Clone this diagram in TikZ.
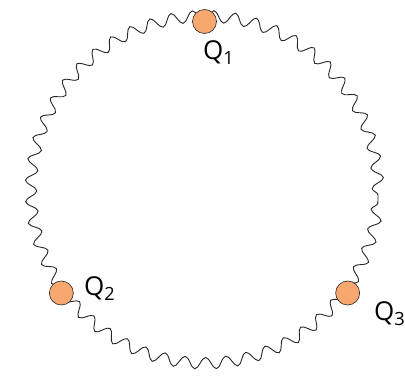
\documentclass[tikz,border=0pt]{standalone}
\usepackage{fontspec}
\setmainfont{Open Sans}
\usetikzlibrary{decorations.pathmorphing,calc}
\definecolor{ballfill}{RGB}{248,168,110}
\newcommand{\qfont}{\fontsize{26}{30}\selectfont}
\tikzset{
  wave/.style={draw=black!85, line width=0.9pt, decorate,
    decoration={snake, amplitude=5.8pt, segment length=20.96pt}},
  ball/.style={circle, draw=black!85, line width=0.6pt, fill=ballfill, minimum size=24pt, inner sep=0pt},
  qlabel/.style={inner sep=0pt, anchor=base west}
}
\begin{document}
\begin{tikzpicture}[x=1pt,y=1pt]
\useasboundingbox (0,0) rectangle (405,381);
\coordinate (c) at (204.5,186);
\draw[wave] (c) circle (173.5);
\node[ball] (b1) at ($(c)+(90:173.5)$) {};
\node[ball] (b2) at ($(c)+(214.4:173.5)$) {};
\node[ball] (b3) at ($(c)+(325.6:173.5)$) {};
\node[qlabel] (q1) at (203,321) {\qfont Q\textsubscript{1}};
\node[qlabel] (q2) at (84,85) {\qfont Q\textsubscript{2}};
\node[qlabel] (q3) at (374,60) {\qfont Q\textsubscript{3}};
\end{tikzpicture}
\end{document}
